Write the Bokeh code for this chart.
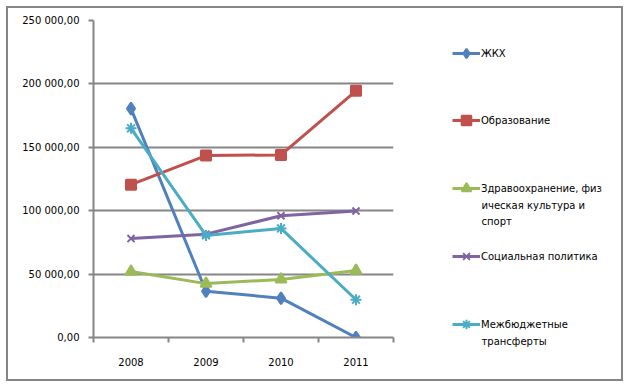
from bokeh.plotting import figure
from bokeh.models import Range1d, FixedTicker, Legend, LegendItem, Label
from bokeh.embed import file_html
from bokeh.resources import INLINE

years = ["2008", "2009", "2010", "2011"]
series_names = ["ЖКХ", "Образование", "Здравоохранение, физ\nическая культура и\nспорт",
                "Социальная политика", "Межбюджетные\nтрансферты"]
zhkh = [180500, 36500, 31000, 0]
obrazovanie = [120500, 143500, 144000, 194500]
zdrav = [52000, 42500, 45800, 52800]
social = [78000, 81500, 96000, 99800]
mezhbud = [165000, 80500, 86000, 29800]
y_ticks = [0, 50000, 100000, 150000, 200000, 250000]
y_labels = ["0,00", "50 000,00", "100 000,00", "150 000,00", "200 000,00", "250 000,00"]

colors = ["#4F81BD", "#C0504D", "#9BBB59", "#8064A2", "#4BACC6"]
markers = ["diamond", "square", "triangle", "x", "asterisk"]
msizes = [12, 10, 11, 10, 11]
data = [zhkh, obrazovanie, zdrav, social, mezhbud]

FONT = "DejaVu Sans"
GRAY = "#868686"

p = figure(width=613, height=371, output_backend="svg", toolbar_location=None,
           x_range=Range1d(0, len(years)), y_range=Range1d(0, y_ticks[-1]),
           min_border_left=85, min_border_top=12, min_border_right=228, min_border_bottom=42,
           frame_width=300, frame_height=317)
p.styles = {"border": "2px solid #868686", "margin": "6px 0 0 6px"}
p.outline_line_color = None
p.background_fill_color = "white"
p.border_fill_color = "white"

xs = [i + 0.5 for i in range(len(years))]

p.xaxis.ticker = FixedTicker(ticks=xs, minor_ticks=list(range(len(years) + 1)))
p.xaxis.major_label_overrides = {x: y for x, y in zip(xs, years)}
p.xaxis.major_tick_out = 0
p.xaxis.major_tick_in = 0
p.xaxis.minor_tick_out = 5
p.xaxis.minor_tick_in = 0
p.xaxis.minor_tick_line_color = GRAY
p.xaxis.minor_tick_line_width = 2
p.xaxis.major_label_standoff = 15
p.xaxis.axis_line_color = GRAY
p.xaxis.axis_line_width = 2
p.xaxis.major_label_text_font = FONT
p.xaxis.major_label_text_font_size = "10px"
p.xaxis.major_label_text_color = "black"

p.yaxis.ticker = FixedTicker(ticks=y_ticks, minor_ticks=[])
p.yaxis.major_label_overrides = {t: l for t, l in zip(y_ticks, y_labels)}
p.yaxis.major_tick_out = 5
p.yaxis.major_tick_in = 0
p.yaxis.major_tick_line_color = GRAY
p.yaxis.major_tick_line_width = 2
p.yaxis.minor_tick_line_color = None
p.yaxis.major_label_standoff = 9
p.yaxis.axis_line_color = GRAY
p.yaxis.axis_line_width = 2
p.yaxis.major_label_text_font = FONT
p.yaxis.major_label_text_font_size = "10px"
p.yaxis.major_label_text_color = "black"

p.xgrid.grid_line_color = None
p.ygrid.grid_line_color = GRAY
p.ygrid.grid_line_width = 2

# legend panel: a separate root laid over the blank right part of the chart
panel_left_page = 393
panel_top_page = 8
q = figure(width=228, height=371, output_backend="svg", toolbar_location=None,
           x_range=Range1d(0, 1), y_range=Range1d(0, 1),
           x_axis_location=None, y_axis_location=None,
           min_border_left=0, min_border_top=0, min_border_right=0, min_border_bottom=0)
q.styles = {"position": "absolute", "left": f"{panel_left_page}px", "top": f"{panel_top_page}px"}
q.grid.grid_line_color = None
q.outline_line_color = None
q.background_fill_alpha = 0
q.border_fill_alpha = 0

items = []
for name, vals, c, m, ms in zip(series_names, data, colors, markers, msizes):
    p.line(xs, vals, line_color=c, line_width=3)
    p.scatter(xs, vals, marker=m, size=ms, fill_color=c, line_color=c, line_width=2)
    d1 = q.line([-5, -4], [-5, -5], line_color=c, line_width=3)
    d2 = q.scatter([-5], [-5], marker=m, size=ms, fill_color=c, line_color=c, line_width=2)
    items.append((name, d1, d2))

centers = [53, 120, 188, 256, 324]
line_step = 16.5
glyph_h = 24
panel_bottom_page = panel_top_page + 371
text_x_page = 481
for (name, d1, d2), cy in zip(items, centers):
    lines = name.split("\n")
    lg = Legend(items=[LegendItem(label=lines[0], renderers=[d1, d2])],
                location=(452 - panel_left_page, panel_bottom_page - (cy + glyph_h / 2)),
                padding=0, margin=0, spacing=0,
                border_line_color=None, background_fill_alpha=0,
                glyph_width=28, glyph_height=glyph_h, label_height=16,
                label_standoff=1,
                label_text_font=FONT, label_text_font_size="10px",
                label_text_color="black")
    q.add_layout(lg, "center")
    for k, extra in enumerate(lines[1:], start=1):
        q.add_layout(Label(x=text_x_page - panel_left_page,
                           y=panel_bottom_page - (cy + k * line_step),
                           x_units="screen", y_units="screen", text=extra,
                           text_font=FONT, text_font_size="10px", text_color="black",
                           text_baseline="middle", text_align="left"))

open("out.html", "w").write(file_html([p, q], INLINE))
